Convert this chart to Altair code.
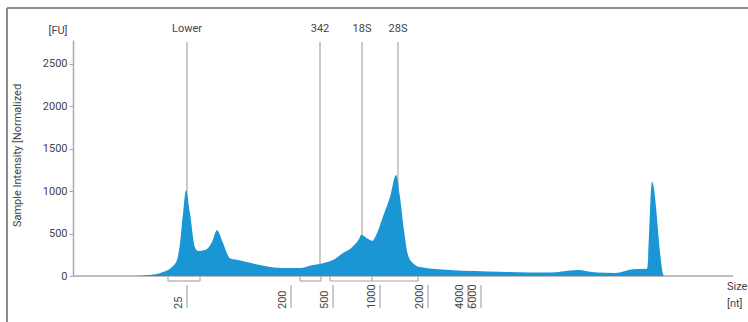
import altair as alt
import pandas as pd

# ---- data ----
pos = [0, 62, 70, 77, 90, 99, 104, 107, 110, 113, 117, 122, 125, 132, 139, 144, 150, 157, 164,
       177, 187, 197, 210, 227, 240, 250, 260, 270, 279, 287, 288, 294, 299, 304, 310, 317, 323,
       327, 331, 335, 340, 347, 377, 427, 477, 504, 524, 542, 560, 574, 579, 591, 660]
intensity = [0, 0, 5, 12, 47, 106, 188, 390, 740, 1010, 740, 340, 295, 305, 400, 540, 390, 210, 190,
             155, 130, 106, 95, 95, 130, 150, 188, 270, 340, 460, 485, 445, 415, 505, 700, 930, 1190,
             930, 540, 250, 150, 105, 70, 50, 40, 70, 40, 35, 80, 85, 1110, 0, 0]

marker_names = ["Lower", "342", "18S", "28S"]
marker_pos = [114, 247, 289, 325]

ladder_sizes = ["25", "200", "500", "1000", "2000", "4000", "6000"]
ladder_pos = [114, 218, 260, 307, 355, 395, 408]

bracket_start = [95, 227, 257]
bracket_end = [127, 248, 345]
bracket_mid = [299]

y_ticks = [0, 500, 1000, 1500, 2000, 2500]

# ---- styling ----
FONT = "Roboto"
FS = 11
TEXT = "#444444"
GRAY = "#a8a8a8"
BLUE = "#1a96d4"
W, H = 660, 236

x_scale = alt.Scale(domain=[0, 660], nice=False, zero=False)
y_scale = alt.Scale(domain=[0, 2780], nice=False)

one = pd.DataFrame({"k": [0]})

frame_left = alt.Chart(one).mark_rule(color="#8c8c8c", strokeWidth=2).encode(
    x=alt.value(-66), y=alt.value(-32), y2=alt.value(290))
frame_top = alt.Chart(one).mark_rule(color="#8c8c8c", strokeWidth=2).encode(
    x=alt.value(-66), x2=alt.value(690), y=alt.value(-32))

baseline = alt.Chart(pd.DataFrame({"a": [0], "b": [660]})).mark_rule(
    color=GRAY, strokeWidth=1.5).encode(
    x=alt.X("a:Q", scale=x_scale, axis=None), x2="b:Q", y=alt.value(H))

markers = pd.DataFrame({"name": marker_names, "pos": marker_pos})
marker_lines = alt.Chart(markers).mark_rule(color=GRAY, strokeWidth=1.2).encode(
    x=alt.X("pos:Q", scale=x_scale, axis=None), y=alt.value(2), y2=alt.value(H))
marker_text = alt.Chart(markers).mark_text(
    font=FONT, fontSize=FS, color=TEXT, baseline="middle", align="center").encode(
    x=alt.X("pos:Q", scale=x_scale, axis=None), y=alt.value(-11), text="name:N")

area = alt.Chart(pd.DataFrame({"pos": pos, "fu": intensity})).mark_area(
    color=BLUE, interpolate="monotone").encode(
    x=alt.X("pos:Q", scale=x_scale, axis=None),
    y=alt.Y("fu:Q", scale=y_scale,
            axis=alt.Axis(values=y_ticks, format="d", title="Sample Intensity [Normalized",
                          titleAngle=270, titleX=-56, titleY=H / 2 - 3,
                          titleAlign="center", titleBaseline="middle",
                          titleFont=FONT, titleFontSize=FS, titleFontWeight="normal",
                          titleColor=TEXT, labelFont=FONT, labelFontSize=FS,
                          labelColor=TEXT, labelPadding=2, tickSize=4,
                          tickColor=GRAY, domainColor=GRAY, domainWidth=1.5,
                          grid=False)))

ladder = pd.DataFrame({"size": ladder_sizes, "pos": ladder_pos})
ladder_lines = alt.Chart(ladder).mark_rule(color=GRAY, strokeWidth=1.2).encode(
    x=alt.X("pos:Q", scale=x_scale, axis=None), y=alt.value(245), y2=alt.value(268))
ladder_text = alt.Chart(ladder).mark_text(
    font=FONT, fontSize=FS, color=TEXT, angle=270, align="left", baseline="middle",
    dy=-8).encode(
    x=alt.X("pos:Q", scale=x_scale, axis=None), y=alt.value(269), text="size:N")

brackets = pd.DataFrame({"s": bracket_start, "e": bracket_end})
bracket_h = alt.Chart(brackets).mark_rule(color=GRAY, strokeWidth=1.2).encode(
    x=alt.X("s:Q", scale=x_scale, axis=None), x2="e:Q", y=alt.value(241))
bracket_v = alt.Chart(pd.DataFrame({"t": bracket_start + bracket_end + bracket_mid})).mark_rule(
    color=GRAY, strokeWidth=1.2).encode(
    x=alt.X("t:Q", scale=x_scale, axis=None), y=alt.value(H), y2=alt.value(241))

fu_label = alt.Chart(one).mark_text(
    font=FONT, fontSize=FS, color=TEXT, align="center", baseline="middle", text="[FU]").encode(
    x=alt.value(-15), y=alt.value(-9))
size_label = alt.Chart(one).mark_text(
    font=FONT, fontSize=FS, color=TEXT, align="left", baseline="middle", text="Size").encode(
    x=alt.value(654), y=alt.value(247))
nt_label = alt.Chart(one).mark_text(
    font=FONT, fontSize=FS, color=TEXT, align="left", baseline="middle", text="[nt]").encode(
    x=alt.value(654), y=alt.value(264))

chart = alt.layer(
    frame_left, frame_top, baseline, marker_lines, area, marker_text,
    ladder_lines, ladder_text, bracket_h, bracket_v, fu_label, size_label, nt_label
).properties(
    width=W, height=H,
    autosize=alt.AutoSizeParams(type="none"),
    padding={"left": 73, "top": 40, "right": 15, "bottom": 46},
    background="white",
).configure_view(stroke=None)

chart.save("out.html", embed_options={"renderer": "svg", "actions": False})
